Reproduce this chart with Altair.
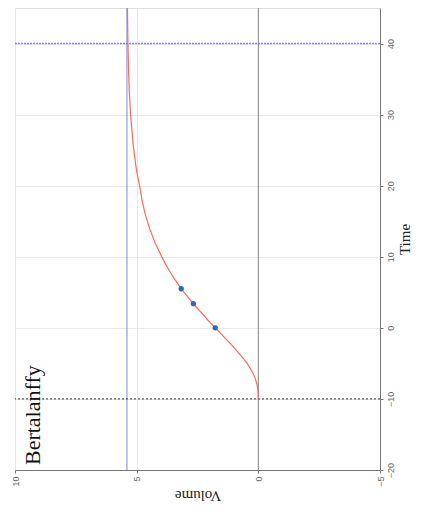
import altair as alt
import pandas as pd

# Bertalanffy growth curve
curve_time = [-10, -9, -8, -7, -6, -5, -4, -3, -2, -1, 0, 1, 2, 3, 4, 5, 6, 7, 8, 9, 10,
              12, 14, 16, 18, 20, 22, 24, 26, 28, 30, 33, 36, 40, 45]
curve_volume = [0.0, 0.01, 0.05, 0.14, 0.28, 0.46, 0.69, 0.94, 1.21, 1.49, 1.77,
                2.05, 2.31, 2.57, 2.82, 3.05, 3.27, 3.47, 3.65, 3.82, 3.97,
                4.25, 4.47, 4.65, 4.78, 4.88, 5.0, 5.08, 5.15, 5.2, 5.25, 5.3, 5.33, 5.36, 5.38]

obs_time = [0.0, 3.4, 5.5]
obs_volume = [1.77, 2.67, 3.17]

asymptote_volume = [5.4]
zero_volume = [0.0]
start_time = [-10]
end_time = [40]

x_ticks = [-5, 0, 5, 10]
y_ticks = [-20, -10, 0, 10, 20, 30, 40]

curve = pd.DataFrame({"Time": curve_time, "Volume": curve_volume})
obs = pd.DataFrame({"Time": obs_time, "Volume": obs_volume})

xscale = alt.Scale(domain=[-5, 10], reverse=True, nice=False, zero=False)
yscale = alt.Scale(domain=[-20, 45], nice=False, zero=False)

xaxis = alt.Axis(values=x_ticks, title="Volume", labelAngle=270, labelFontSize=9,
                 labelColor="#666", labelFont="Liberation Sans", titleFont="Liberation Serif",
                 titleFontSize=15, titleFontWeight="normal", titleColor="#222",
                 titleAngle=180, titleBaseline="bottom", titlePadding=1,
                 gridColor="#e8e8e8", domainColor="#777", tickColor="#777", tickSize=3,
                 labelPadding=3)
yaxis = alt.Axis(values=y_ticks, title="Time", orient="right", labelAngle=270,
                 labelFontSize=9, labelColor="#666", labelFont="Liberation Sans",
                 titleFont="Liberation Serif", titleFontSize=15, titleFontWeight="normal",
                 titleColor="#222", titleAngle=270, titleBaseline="top", titlePadding=2,
                 gridColor="#e8e8e8", domainColor="#777", tickColor="#777", tickSize=3,
                 labelPadding=3)

base_line = alt.Chart(curve).mark_line(color="#ff6a55", strokeWidth=1.2).encode(
    x=alt.X("Volume:Q", scale=xscale, axis=xaxis),
    y=alt.Y("Time:Q", scale=yscale, axis=yaxis),
    order="Time:Q",
)

zero_rule = alt.Chart(pd.DataFrame({"v": zero_volume})).mark_rule(color="#888", strokeWidth=1).encode(
    x=alt.X("v:Q", scale=xscale))
asym_rule = alt.Chart(pd.DataFrame({"v": asymptote_volume})).mark_rule(color="#9a9ae2", strokeWidth=1.2).encode(
    x=alt.X("v:Q", scale=xscale))
start_rule = alt.Chart(pd.DataFrame({"t": start_time})).mark_rule(
    color="#333", strokeWidth=1, strokeDash=[2, 2]).encode(y=alt.Y("t:Q", scale=yscale))
end_rule = alt.Chart(pd.DataFrame({"t": end_time})).mark_rule(
    color="#6a6ae8", strokeWidth=1.5, strokeDash=[2, 1], opacity=0.8).encode(y=alt.Y("t:Q", scale=yscale))

points = alt.Chart(obs).mark_point(filled=True, color="#2e68b0", size=28, opacity=1).encode(
    x=alt.X("Volume:Q", scale=xscale), y=alt.Y("Time:Q", scale=yscale))

label = alt.Chart(pd.DataFrame({"Volume": [9.25], "Time": [-19.3], "txt": ["Bertalanffy"]})).mark_text(
    angle=270, align="left", baseline="middle", font="Liberation Serif", fontSize=22, color="#111"
).encode(x=alt.X("Volume:Q", scale=xscale), y=alt.Y("Time:Q", scale=yscale), text="txt:N")

chart = alt.layer(zero_rule, asym_rule, start_rule, end_rule, base_line, points, label).properties(
    width=365, height=462,
    autosize=alt.AutoSizeParams(type="none"),
    padding={"left": 7, "top": 0, "right": 34, "bottom": 34},
).configure_view(stroke=None).configure(background="white")

chart.save("out.html", embed_options={"renderer": "svg", "actions": False})
